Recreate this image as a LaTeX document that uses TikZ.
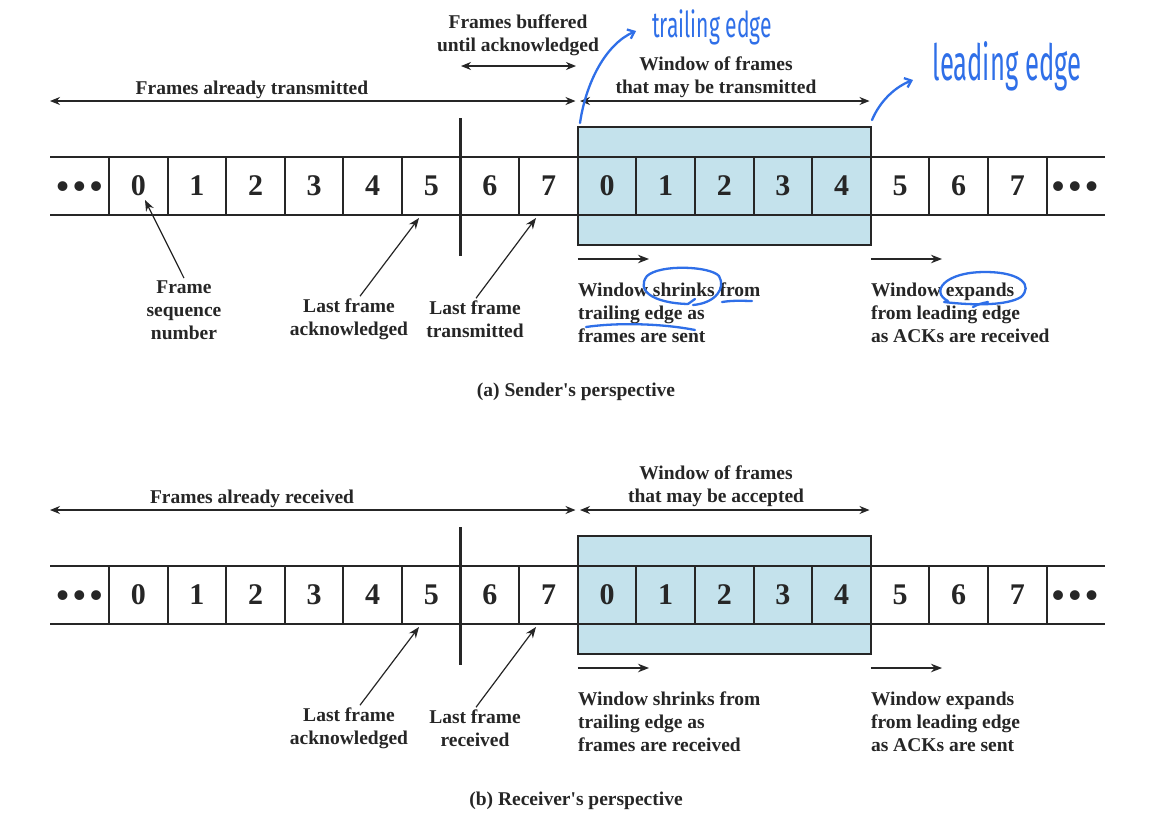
\documentclass[tikz,border=0pt]{standalone}
\usepackage{fontspec}
\setmainfont{Liberation Serif}
\newfontfamily\handfont{Fira Sans}
\usetikzlibrary{arrows.meta}
\definecolor{ink}{HTML}{262626}
\definecolor{winfill}{HTML}{C4E2EC}
\definecolor{pen}{HTML}{2F6FE8}
\tikzset{
  lab/.style={font=\fontsize{19.5}{23.2}\selectfont\bfseries, text=ink, align=center, inner sep=0pt},
  lablft/.style={lab, align=left, anchor=west},
  digit/.style={font=\fontsize{30}{30}\selectfont\bfseries, text=ink, inner sep=0pt},
  dotsnode/.style={font=\fontsize{36}{36}\selectfont\bfseries, text=ink, inner sep=0pt},
  strip/.style={draw=ink, line width=2pt},
  thinline/.style={draw=ink, line width=1.2pt},
  span/.style={thinline, {Stealth[length=10pt,width=8pt]}-{Stealth[length=10pt,width=8pt]}},
  ptr/.style={thinline, -{Stealth[length=11pt,width=8.5pt]}},
  penline/.style={draw=pen, line width=2.3pt, line cap=round, line join=round},
  handtext/.style={text=pen, inner sep=0pt},
}
\newcommand{\framestrip}[1]{%
  \fill[winfill] (577.8,127) rectangle (870.8,245);
  \draw[strip] (50,157) -- (1105,157);
  \draw[strip] (50,215) -- (1105,215);
  \foreach \k in {0,...,16} \draw[strip] ({109+58.6*\k},157) -- ({109+58.6*\k},215);
  \draw[ink, line width=2pt] (577.8,127) rectangle (870.8,245);
  \draw[ink, line width=3.2pt] (460.6,118) -- (460.6,256);
  \foreach \k/\t in {0/0,1/1,2/2,3/3,4/4,5/5,6/6,7/7,8/0,9/1,10/2,11/3,12/4,13/5,14/6,15/7}
    \node[digit] (#1d\k) at ({109+58.6*(\k+0.5)},186) {\t};
  \node[dotsnode] (#1dl) at (79.5,190) {•\hspace{4.2pt}•\hspace{4.2pt}•};
  \node[dotsnode] (#1dr) at (1075,190) {•\hspace{4.2pt}•\hspace{4.2pt}•};
  \coordinate (#1sL) at (50,101);
  \coordinate (#1sM1) at (575.5,101);
  \coordinate (#1sM2) at (580,101);
  \coordinate (#1sR) at (869.5,101);
  \draw[span] (#1sL) -- (#1sM1);
  \draw[span] (#1sM2) -- (#1sR);
  \coordinate (#1shA) at (577.8,259);
  \coordinate (#1shB) at (649,259);
  \coordinate (#1exA) at (870.8,259);
  \coordinate (#1exB) at (942,259);
  \draw[ptr] (#1shA) -- (#1shB);
  \draw[ptr] (#1exA) -- (#1exB);
  \coordinate (#1tipack) at (419,218);
  \coordinate (#1tiplast) at (536,218);
}
\begin{document}
\begin{tikzpicture}[x=1pt,y=-1pt]
\useasboundingbox (0,0) rectangle (1172,820);
\fill[white] (0,0) rectangle (1172,820);

% ---------------- (a) sender ----------------
\framestrip{a}
\node[lab] (aalready) at (252,90) {Frames already transmitted};
\node[lab] (awin) at (716,77) {Window of frames\\that may be transmitted};
\node[lab] (abuf) at (518,35) {Frames buffered\\until acknowledged};
\coordinate (abufL) at (461,66);
\coordinate (abufR) at (576,66);
\draw[span] (abufL) -- (abufR);
\node[lab] (aseq) at (184,310) {Frame\\sequence\\number};
\coordinate (atipseq) at (145,200);
\draw[ptr] ([yshift=2pt]aseq.north) -- (atipseq);
\node[lab] (aack) at (349,319) {Last frame\\acknowledged};
\draw[ptr] ([xshift=11pt,yshift=2pt]aack.north) -- (atipack);
\node[lab] (alast) at (475,319) {Last frame\\transmitted};
\draw[ptr] ([xshift=1pt,yshift=2pt]alast.north) -- (atiplast);
\node[lablft] (ashrink) at (577.8,313) {Window shrinks from\\trailing edge as\\frames are sent};
\node[lablft] (aexpand) at (870.8,313) {Window expands\\from leading edge\\as ACKs are received};
\node[lab] (acap) at (576,392) {(a) Sender\textquotesingle s perspective};

% handwritten annotations
\node[handtext] (htrail) at (712,27) {\handfont\fontsize{31}{31}\selectfont\scalebox{0.68}[1.15]{trailing edge}};
\node[handtext] (hlead) at (1007,66) {\handfont\fontsize{40}{40}\selectfont\scalebox{0.64}[1.25]{leading edge}};
\draw[penline, -{Straight Barb[length=6pt,width=10pt]}] (580,123) .. controls (586,82) and (606,44) .. (636,31);
\draw[penline, -{Straight Barb[length=6pt,width=10pt]}] (872,120) .. controls (880,101) and (895,87) .. (913,80);
\draw[penline] (693,305) .. controls (716,303) and (726,288) .. (719,276)
  .. controls (710,266) and (660,264) .. (647,276)
  .. controls (636,290) and (652,303) .. (688,304);
\draw[penline] (688,304) -- (695,299);
\draw[penline] (722,302) .. controls (735,300) and (745,301) .. (752,301);
\draw[penline] (586,327) .. controls (620,322) and (665,324) .. (695,330);
\draw[penline] (948,301) .. controls (930,292) and (944,272) .. (985,272)
  .. controls (1022,272) and (1033,286) .. (1021,297)
  .. controls (1008,305) and (978,306) .. (944,302);
\draw[penline] (973,307) .. controls (978,304) and (983,303) .. (988,302);

% ---------------- (b) receiver ----------------
\begin{scope}[yshift=-409pt]
\framestrip{b}
\node[lab] (balready) at (252,90) {Frames already received};
\node[lab] (bwin) at (716,77) {Window of frames\\that may be accepted};
\node[lab] (back) at (349,319) {Last frame\\acknowledged};
\draw[ptr] ([xshift=11pt,yshift=2pt]back.north) -- (btipack);
\node[lab] (blast) at (475,319) {Last frame\\received};
\draw[ptr] ([xshift=1pt,yshift=2pt]blast.north) -- (btiplast);
\node[lablft] (bshrink) at (577.8,313) {Window shrinks from\\trailing edge as\\frames are received};
\node[lablft] (bexpand) at (870.8,313) {Window expands\\from leading edge\\as ACKs are sent};
\node[lab] (bcap) at (576,392) {(b) Receiver\textquotesingle s perspective};
\end{scope}
\end{tikzpicture}
\end{document}
